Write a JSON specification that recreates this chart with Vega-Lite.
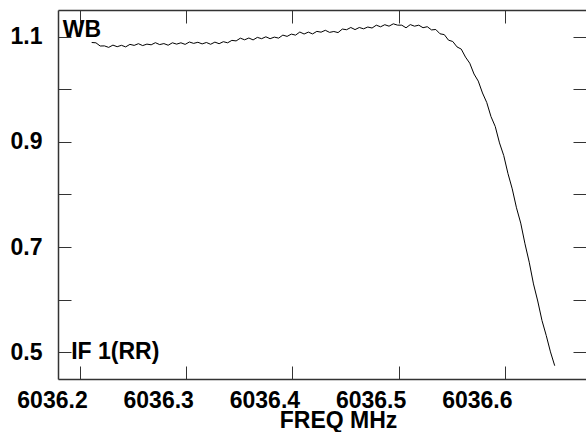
{
  "$schema": "https://vega.github.io/schema/vega-lite/v6.json",
  "autosize": "none",
  "padding": {"left": 58, "top": 10, "right": 0, "bottom": 53},
  "width": 528,
  "height": 369,
  "background": "white",
  "config": {"view": {"stroke": null}, "font": "Liberation Sans"},
  "resolve": {"axis": {"x": "independent", "y": "independent"}},
  "datasets": {
    "spec": [
      {"f": 6036.211, "v": 1.0890}, {"f": 6036.215, "v": 1.0884}, {"f": 6036.219, "v": 1.0823}, {"f": 6036.223, "v": 1.0825},
      {"f": 6036.227, "v": 1.0797}, {"f": 6036.231, "v": 1.0840}, {"f": 6036.235, "v": 1.0810}, {"f": 6036.239, "v": 1.0836},
      {"f": 6036.243, "v": 1.0806}, {"f": 6036.247, "v": 1.0854}, {"f": 6036.251, "v": 1.0835}, {"f": 6036.255, "v": 1.0867},
      {"f": 6036.259, "v": 1.0831}, {"f": 6036.263, "v": 1.0859}, {"f": 6036.267, "v": 1.0846}, {"f": 6036.271, "v": 1.0886},
      {"f": 6036.275, "v": 1.0850}, {"f": 6036.279, "v": 1.0869}, {"f": 6036.283, "v": 1.0838}, {"f": 6036.287, "v": 1.0884},
      {"f": 6036.291, "v": 1.0859}, {"f": 6036.295, "v": 1.0884}, {"f": 6036.299, "v": 1.0854}, {"f": 6036.303, "v": 1.0899},
      {"f": 6036.307, "v": 1.0873}, {"f": 6036.311, "v": 1.0894}, {"f": 6036.315, "v": 1.0863}, {"f": 6036.319, "v": 1.0890},
      {"f": 6036.323, "v": 1.0856}, {"f": 6036.327, "v": 1.0897}, {"f": 6036.331, "v": 1.0867}, {"f": 6036.335, "v": 1.0905},
      {"f": 6036.339, "v": 1.0884}, {"f": 6036.343, "v": 1.0930}, {"f": 6036.347, "v": 1.0920}, {"f": 6036.351, "v": 1.0972},
      {"f": 6036.355, "v": 1.0941}, {"f": 6036.359, "v": 1.0975}, {"f": 6036.363, "v": 1.0939}, {"f": 6036.367, "v": 1.0987},
      {"f": 6036.371, "v": 1.0962}, {"f": 6036.375, "v": 1.0998}, {"f": 6036.379, "v": 1.0962}, {"f": 6036.383, "v": 1.0992},
      {"f": 6036.387, "v": 1.0973}, {"f": 6036.391, "v": 1.1030}, {"f": 6036.395, "v": 1.1006}, {"f": 6036.399, "v": 1.1049},
      {"f": 6036.403, "v": 1.1030}, {"f": 6036.407, "v": 1.1089}, {"f": 6036.411, "v": 1.1051}, {"f": 6036.415, "v": 1.1087},
      {"f": 6036.419, "v": 1.1053}, {"f": 6036.423, "v": 1.1101}, {"f": 6036.427, "v": 1.1086}, {"f": 6036.431, "v": 1.1122},
      {"f": 6036.435, "v": 1.1082}, {"f": 6036.439, "v": 1.1099}, {"f": 6036.443, "v": 1.1078}, {"f": 6036.447, "v": 1.1145},
      {"f": 6036.451, "v": 1.1133}, {"f": 6036.455, "v": 1.1175}, {"f": 6036.459, "v": 1.1135}, {"f": 6036.463, "v": 1.1175},
      {"f": 6036.467, "v": 1.1150}, {"f": 6036.471, "v": 1.1184}, {"f": 6036.475, "v": 1.1165}, {"f": 6036.479, "v": 1.1219},
      {"f": 6036.483, "v": 1.1188}, {"f": 6036.487, "v": 1.1228}, {"f": 6036.491, "v": 1.1200}, {"f": 6036.495, "v": 1.1245},
      {"f": 6036.499, "v": 1.1220}, {"f": 6036.503, "v": 1.1219}, {"f": 6036.507, "v": 1.1169}, {"f": 6036.511, "v": 1.1230},
      {"f": 6036.515, "v": 1.1200}, {"f": 6036.519, "v": 1.1219}, {"f": 6036.523, "v": 1.1171}, {"f": 6036.527, "v": 1.1190},
      {"f": 6036.531, "v": 1.1129}, {"f": 6036.535, "v": 1.1137}, {"f": 6036.539, "v": 1.1055}, {"f": 6036.543, "v": 1.1040},
      {"f": 6036.547, "v": 1.0934}, {"f": 6036.551, "v": 1.0909}, {"f": 6036.555, "v": 1.0806}, {"f": 6036.559, "v": 1.0764},
      {"f": 6036.563, "v": 1.0612}, {"f": 6036.567, "v": 1.0496}, {"f": 6036.571, "v": 1.0291}, {"f": 6036.575, "v": 1.0156},
      {"f": 6036.579, "v": 0.9930}, {"f": 6036.583, "v": 0.9749}, {"f": 6036.587, "v": 0.9481}, {"f": 6036.591, "v": 0.9293},
      {"f": 6036.595, "v": 0.8981}, {"f": 6036.599, "v": 0.8740}, {"f": 6036.603, "v": 0.8396}, {"f": 6036.607, "v": 0.8108},
      {"f": 6036.611, "v": 0.7747}, {"f": 6036.615, "v": 0.7456}, {"f": 6036.619, "v": 0.7063}, {"f": 6036.623, "v": 0.6713},
      {"f": 6036.627, "v": 0.6300}, {"f": 6036.631, "v": 0.5975}, {"f": 6036.635, "v": 0.5605}, {"f": 6036.639, "v": 0.5321},
      {"f": 6036.643, "v": 0.5008}, {"f": 6036.647, "v": 0.4745}
    ],
    "notes": [
      {"f": 6036.1838, "v": 1.1, "t": "WB"},
      {"f": 6036.1917, "v": 0.4873, "t": "IF 1(RR)"}
    ]
  },
  "layer": [
    {
      "data": {"name": "spec"},
      "mark": {"type": "line", "color": "black", "strokeWidth": 1, "clip": true},
      "encoding": {
        "x": {
          "field": "f", "type": "quantitative",
          "scale": {"domain": [6036.17928, 6036.67646], "nice": false, "zero": false},
          "axis": {
            "orient": "bottom", "values": [6036.2, 6036.3, 6036.4, 6036.5, 6036.6], "format": ".1f",
            "title": "FREQ MHz", "titleFont": "Liberation Sans", "titleFontSize": 23, "titleFontWeight": "bold",
            "titleColor": "black", "titlePadding": -3, "titleX": 280,
            "labelFont": "Liberation Sans", "labelFontSize": 23, "labelFontWeight": "bold", "labelColor": "black",
            "labelOffset": -28, "labelPadding": 23, "labelFlush": false, "labelOverlap": false,
            "tickSize": -13, "tickColor": "#333", "tickWidth": 1,
            "domain": true, "domainColor": "#333", "domainWidth": 1.5, "grid": false
          }
        },
        "y": {
          "field": "v", "type": "quantitative",
          "scale": {"domain": [0.44924, 1.15076], "nice": false, "zero": false},
          "axis": {
            "orient": "left", "values": [0.5, 0.6, 0.7, 0.8, 0.9, 1.0, 1.1], "format": ".1f",
            "labelExpr": "indexof(['0.5','0.7','0.9','1.1'], datum.label) >= 0 ? datum.label : ''",
            "title": null,
            "labelFont": "Liberation Sans", "labelFontSize": 23, "labelFontWeight": "bold", "labelColor": "black",
            "labelPadding": 29, "labelFlush": false, "labelOverlap": false,
            "tickSize": -13, "tickColor": "#333", "tickWidth": 1,
            "domain": true, "domainColor": "#333", "domainWidth": 1.5, "grid": false
          }
        }
      }
    },
    {
      "data": {"name": "spec"},
      "mark": {"type": "line", "opacity": 0},
      "encoding": {
        "x": {
          "field": "f", "type": "quantitative",
          "axis": {
            "orient": "top", "values": [6036.2, 6036.3, 6036.4, 6036.5, 6036.6], "labels": false, "title": null,
            "tickSize": -13, "tickColor": "#333", "tickWidth": 1,
            "domain": true, "domainColor": "#333", "domainWidth": 1.5, "grid": false
          }
        },
        "y": {
          "field": "v", "type": "quantitative",
          "axis": {
            "orient": "right", "values": [0.5, 0.6, 0.7, 0.8, 0.9, 1.0, 1.1], "labels": false, "title": null,
            "tickSize": -13, "tickColor": "#333", "tickWidth": 1,
            "domain": false, "grid": false
          }
        }
      }
    },
    {
      "data": {"name": "notes"},
      "mark": {"type": "text", "align": "left", "baseline": "alphabetic", "font": "Liberation Sans", "fontSize": 23, "fontWeight": "bold", "color": "black"},
      "encoding": {
        "x": {"field": "f", "type": "quantitative", "axis": null},
        "y": {"field": "v", "type": "quantitative", "axis": null},
        "text": {"field": "t"}
      }
    }
  ]
}
